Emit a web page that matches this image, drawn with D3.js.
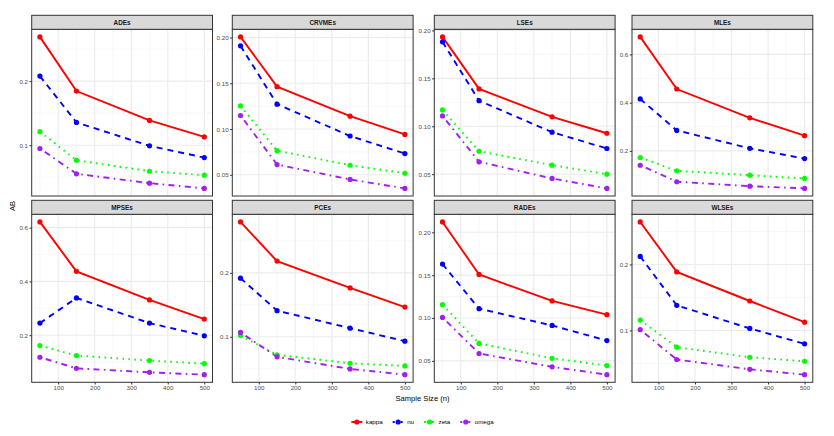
<!DOCTYPE html>
<html>
<head>
<meta charset="utf-8">
<script src="https://cdn.jsdelivr.net/npm/d3@7"></script>
<style>
  body { margin: 0; background: #fff; }
  text { font-family: Arial, "Liberation Sans", sans-serif; }
</style>
</head>
<body>
<script>
// Datos
var sampleSizes = [50, 150, 350, 500];
var params = ["kappa", "nu", "zeta", "omega"];
var estimators = ["ADEs", "CRVMEs", "LSEs", "MLEs", "MPSEs", "PCEs", "RADEs", "WLSEs"];

// AB por estimador: una fila por parámetro (kappa, nu, zeta, omega)
var ADEs   = [[0.269, 0.1845, 0.1387, 0.113], [0.2078, 0.1356, 0.099, 0.0807], [0.1211, 0.0765, 0.0594, 0.0532], [0.0949, 0.0554, 0.0408, 0.0326]];
var CRVMEs = [[0.2007, 0.1463, 0.1141, 0.0941], [0.1909, 0.1272, 0.0924, 0.0732], [0.1253, 0.0764, 0.0604, 0.0517], [0.1148, 0.0612, 0.0449, 0.0351]];
var LSEs   = [[0.1933, 0.139, 0.1098, 0.0927], [0.1881, 0.1267, 0.0938, 0.0768], [0.117, 0.0739, 0.0594, 0.05], [0.1108, 0.0629, 0.0455, 0.0351]];
var MLEs   = [[0.6726, 0.4565, 0.3369, 0.2631], [0.4153, 0.285, 0.2107, 0.1682], [0.1724, 0.1175, 0.0994, 0.0858], [0.1406, 0.0722, 0.054, 0.0445]];
var MPSEs  = [[0.6213, 0.4374, 0.3312, 0.2598], [0.2449, 0.3387, 0.2449, 0.1976], [0.1615, 0.1241, 0.1054, 0.0942], [0.1178, 0.0767, 0.0617, 0.0531]];
var PCEs   = [[0.2797, 0.2184, 0.1764, 0.1465], [0.1917, 0.1409, 0.1135, 0.0931], [0.102, 0.0717, 0.0585, 0.0544], [0.1068, 0.0686, 0.0497, 0.0407]];
var RADEs  = [[0.2121, 0.1508, 0.1199, 0.1039], [0.1629, 0.1109, 0.0913, 0.0737], [0.1156, 0.0703, 0.053, 0.0445], [0.1007, 0.0586, 0.043, 0.0339]];
var WLSEs  = [[0.2644, 0.1887, 0.1446, 0.1126], [0.2122, 0.1381, 0.103, 0.0797], [0.1157, 0.0746, 0.0594, 0.0533], [0.1011, 0.0559, 0.0411, 0.033]];
var values = [ADEs, CRVMEs, LSEs, MLEs, MPSEs, PCEs, RADEs, WLSEs];

// Etiquetas de los ejes
var xTicks = ["100", "200", "300", "400", "500"];
var yTicks = [
  ["0.1", "0.2"],
  ["0.05", "0.10", "0.15", "0.20"],
  ["0.05", "0.10", "0.15", "0.20"],
  ["0.2", "0.4", "0.6"],
  ["0.2", "0.4", "0.6"],
  ["0.1", "0.2"],
  ["0.05", "0.10", "0.15", "0.20"],
  ["0.1", "0.2"]
];

// Estilos
var colors = ["#FF0000", "#0000FF", "#00FF00", "#A020F0"];
var dashes = [null, "6,5", "1.6,4.4", "1.6,4.4,6,4.4"];

// Geometría
var width = 834, height = 436;
var colLeft = [31.7, 232.3, 434.3, 632];
var panelW = 180.8;
var stripTop = [15.3, 200.3];
var stripH = 14;
var panelH = [166.7, 168];

var svg = d3.select("body").append("svg")
    .attr("width", width)
    .attr("height", height);

var x = d3.scaleLinear()
    .domain([50 - 22.5, 500 + 22.5])
    .range([0, panelW]);

estimators.forEach(function(name, i) {
  var row = Math.floor(i / 4), col = i % 4;
  var left = colLeft[col];
  var top = stripTop[row] + stripH;
  var h = panelH[row];
  var data = values[i];

  var all = d3.merge(data);
  var lo = d3.min(all), hi = d3.max(all), pad = (hi - lo) * 0.05;
  var y = d3.scaleLinear().domain([lo - pad, hi + pad]).range([h, 0]);

  var g = svg.append("g").attr("transform", "translate(" + left + "," + top + ")");

  // Rejilla
  var majors = yTicks[i].map(Number);
  var step = majors.length > 1 ? majors[1] - majors[0] : 0.1;
  var minors = [];
  for (var k = -1; k < majors.length; k++) {
    var m = (k < 0 ? majors[0] - step : majors[k]) + step / 2;
    if (m > y.domain()[0] && m < y.domain()[1]) minors.push(m);
  }
  var xMinor = d3.range(50, 501, 100);

  g.selectAll(".ymin").data(minors).enter().append("line")
      .attr("x1", 0).attr("x2", panelW)
      .attr("y1", d => y(d)).attr("y2", d => y(d))
      .attr("stroke", "#F3F3F3").attr("stroke-width", 0.6);
  g.selectAll(".xmin").data(xMinor).enter().append("line")
      .attr("x1", d => x(d)).attr("x2", d => x(d))
      .attr("y1", 0).attr("y2", h)
      .attr("stroke", "#F3F3F3").attr("stroke-width", 0.6);
  g.selectAll(".ymaj").data(majors).enter().append("line")
      .attr("x1", 0).attr("x2", panelW)
      .attr("y1", d => y(d)).attr("y2", d => y(d))
      .attr("stroke", "#EBEBEB").attr("stroke-width", 1.1);
  g.selectAll(".xmaj").data(xTicks.map(Number)).enter().append("line")
      .attr("x1", d => x(d)).attr("x2", d => x(d))
      .attr("y1", 0).attr("y2", h)
      .attr("stroke", "#EBEBEB").attr("stroke-width", 1.1);

  // Series
  var line = d3.line()
      .x((d, j) => x(sampleSizes[j]))
      .y(d => y(d));

  data.forEach(function(series, s) {
    g.append("path")
        .attr("d", line(series))
        .attr("fill", "none")
        .attr("stroke", colors[s])
        .attr("stroke-width", 1.9)
        .attr("stroke-dasharray", dashes[s]);
  });
  data.forEach(function(series, s) {
    g.selectAll(".pt" + s).data(series).enter().append("circle")
        .attr("cx", (d, j) => x(sampleSizes[j]))
        .attr("cy", d => y(d))
        .attr("r", 2.6)
        .attr("fill", colors[s]);
  });

  // Borde del panel
  g.append("rect")
      .attr("width", panelW).attr("height", h)
      .attr("fill", "none").attr("stroke", "#333333").attr("stroke-width", 1);

  // Eje y
  var ya = g.append("g")
      .call(d3.axisLeft(y).tickValues(majors).tickSize(2.2).tickPadding(1.5)
        .tickFormat((d, j) => yTicks[i][j]));
  ya.select(".domain").remove();
  ya.selectAll("line").attr("stroke", "#333333");
  ya.selectAll("text").attr("font-size", 6.2).attr("fill", "#4D4D4D")
      .attr("font-family", "Arial, 'Liberation Sans', sans-serif");

  // Eje x solo en la fila inferior
  if (row === 1) {
    var xa = g.append("g")
        .attr("transform", "translate(0," + h + ")")
        .call(d3.axisBottom(x).tickValues(xTicks.map(Number)).tickSize(2.2).tickPadding(1.5)
          .tickFormat((d, j) => xTicks[j]));
    xa.select(".domain").remove();
    xa.selectAll("line").attr("stroke", "#333333");
    xa.selectAll("text").attr("font-size", 6.2).attr("fill", "#4D4D4D")
        .attr("font-family", "Arial, 'Liberation Sans', sans-serif");
  }

  // Tira con el nombre
  svg.append("rect")
      .attr("x", left).attr("y", stripTop[row])
      .attr("width", panelW).attr("height", stripH)
      .attr("fill", "#D9D9D9").attr("stroke", "#333333").attr("stroke-width", 1);
  svg.append("text")
      .attr("x", left + panelW / 2).attr("y", stripTop[row] + stripH / 2)
      .attr("dy", "0.35em")
      .attr("text-anchor", "middle")
      .attr("font-size", 6.4).attr("font-weight", "bold").attr("fill", "#1A1A1A")
      .text(name);
});

// Títulos de ejes
svg.append("text")
    .attr("x", 422.5).attr("y", 401)
    .attr("text-anchor", "middle")
    .attr("font-size", 7.6).attr("fill", "#000")
    .text("Sample Size (n)");

svg.append("text")
    .attr("transform", "translate(14.5,206) rotate(-90)")
    .attr("text-anchor", "middle")
    .attr("font-size", 7.6).attr("fill", "#000")
    .text("AB");

// Leyenda
var legend = svg.append("g");
var cursor = 0;
params.forEach(function(p, s) {
  var item = legend.append("g").attr("transform", "translate(" + cursor + ",0)");
  item.append("line")
      .attr("x1", 0).attr("x2", 11)
      .attr("stroke", colors[s]).attr("stroke-width", 1.9)
      .attr("stroke-dasharray", dashes[s] ? "2,2" : null);
  item.append("circle").attr("cx", 5.5).attr("r", 2.6).attr("fill", colors[s]);
  var t = item.append("text")
      .attr("x", 14.5).attr("dy", "0.35em")
      .attr("font-size", 6.2).attr("fill", "#000")
      .text(p);
  cursor += 14.5 + t.node().getComputedTextLength() + 10;
});
var legendW = cursor - 10;
legend.attr("transform", "translate(" + (422.5 - legendW / 2) + ",422)");
</script>
</body>
</html>
